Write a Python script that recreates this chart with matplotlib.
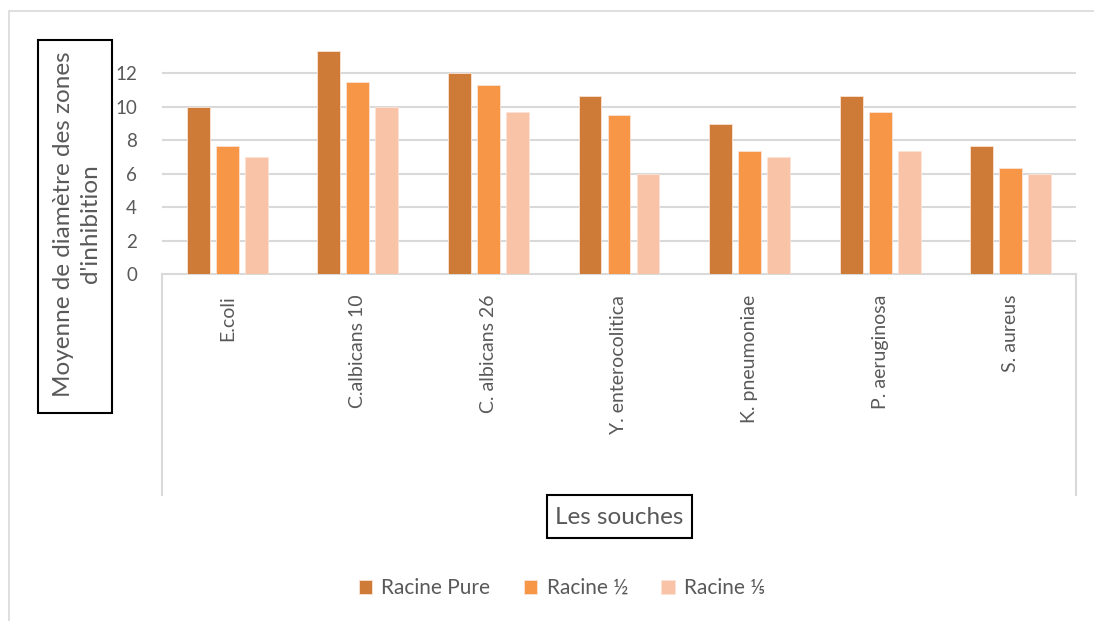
import numpy as np
import matplotlib.pyplot as plt
from matplotlib.lines import Line2D
from matplotlib.patches import Rectangle

plt.rcParams['font.family'] = ['Lato', 'DejaVu Sans']

# data
souches = ['E.coli', 'C.albicans 10', 'C. albicans 26', 'Y. enterocolitica',
           'K. pneumoniae', 'P. aeruginosa', 'S. aureus']
racine_pure = [10, 13.33, 12, 10.67, 9, 10.67, 7.67]
racine_demi = [7.67, 11.5, 11.33, 9.5, 7.33, 9.67, 6.33]
racine_cinq = [7, 10, 9.67, 6, 7, 7.33, 6]
series_names = ['Racine Pure', 'Racine ½', 'Racine ⅕']
colors = ['#CD7B37', '#F79646', '#F9C3A8']
yticks = [0, 2, 4, 6, 8, 10, 12]

W, H = 1094, 621
fig = plt.figure(figsize=(W / 100, H / 100), dpi=100)
grey = '#595959'
line_grey = '#D9D9D9'


def box(x0, y0, x1, y1):
    # pixel coords from the top-left corner
    fig.add_artist(Rectangle((x0 / W, (H - y1) / H), (x1 - x0) / W, (y1 - y0) / H,
                             transform=fig.transFigure, fill=False,
                             edgecolor='black', lw=1.5, zorder=5))


# outer chart border
fig.add_artist(Rectangle((9 / W, -0.1), 1.2, (H - 11) / H + 0.1, transform=fig.transFigure,
                         fill=False, edgecolor=line_grey, lw=1.2))

ax = fig.add_axes([162 / W, (H - 274) / H, 914 / W, 234 / H])
x = np.arange(len(souches))
width = 0.175
step = 0.222
for i, (vals, name, c) in enumerate(zip([racine_pure, racine_demi, racine_cinq], series_names, colors)):
    ax.bar(x + (i - 1) * step, vals, width, color=c, label=name,
           edgecolor='#FBE3D6', linewidth=0.6, zorder=3)

ax.set_xlim(-0.5, len(souches) - 0.5)
ax.set_ylim(0, 14)
ax.set_yticks(yticks)
ax.set_yticklabels([str(t) for t in yticks], fontsize=13.5, color=grey)
ax.tick_params(axis='y', length=0, pad=18)
ax.tick_params(axis='x', length=0, pad=15)
ax.set_xticks(x)
ax.set_xticklabels(souches, rotation=90, fontsize=14, color=grey, va='top')
for t in yticks[1:]:
    ax.axhline(t, color=line_grey, lw=1.5, zorder=1)
for s in ['top', 'right', 'left']:
    ax.spines[s].set_visible(False)
ax.spines['bottom'].set_color(line_grey)
ax.spines['bottom'].set_linewidth(1.5)

# category label area side lines
for xp in (162, 1076):
    fig.add_artist(Line2D([xp / W, xp / W], [(H - 274) / H, (H - 495) / H],
                          transform=fig.transFigure, color=line_grey, lw=1.5))

# y axis title in a box
box(38, 40, 112, 413)
fig.text(77 / W, (H - 224) / H, "Moyenne de diamètre des zones\nd'inhibition",
         rotation=90, ha='center', va='center', fontsize=17.5, color=grey,
         linespacing=1.3)

# x axis title in a box
box(547, 495, 692, 538)
fig.text(619 / W, (H - 517) / H, 'Les souches', ha='center', va='center',
         fontsize=17.5, color=grey)

leg = fig.legend(loc='center', bbox_to_anchor=(562 / W, (H - 588) / H), ncol=3,
                 frameon=False, fontsize=15, handlelength=0.65, handleheight=0.65,
                 columnspacing=1.6, handletextpad=0.45)
for t in leg.get_texts():
    t.set_color(grey)

fig.savefig('out.png', dpi=100)
